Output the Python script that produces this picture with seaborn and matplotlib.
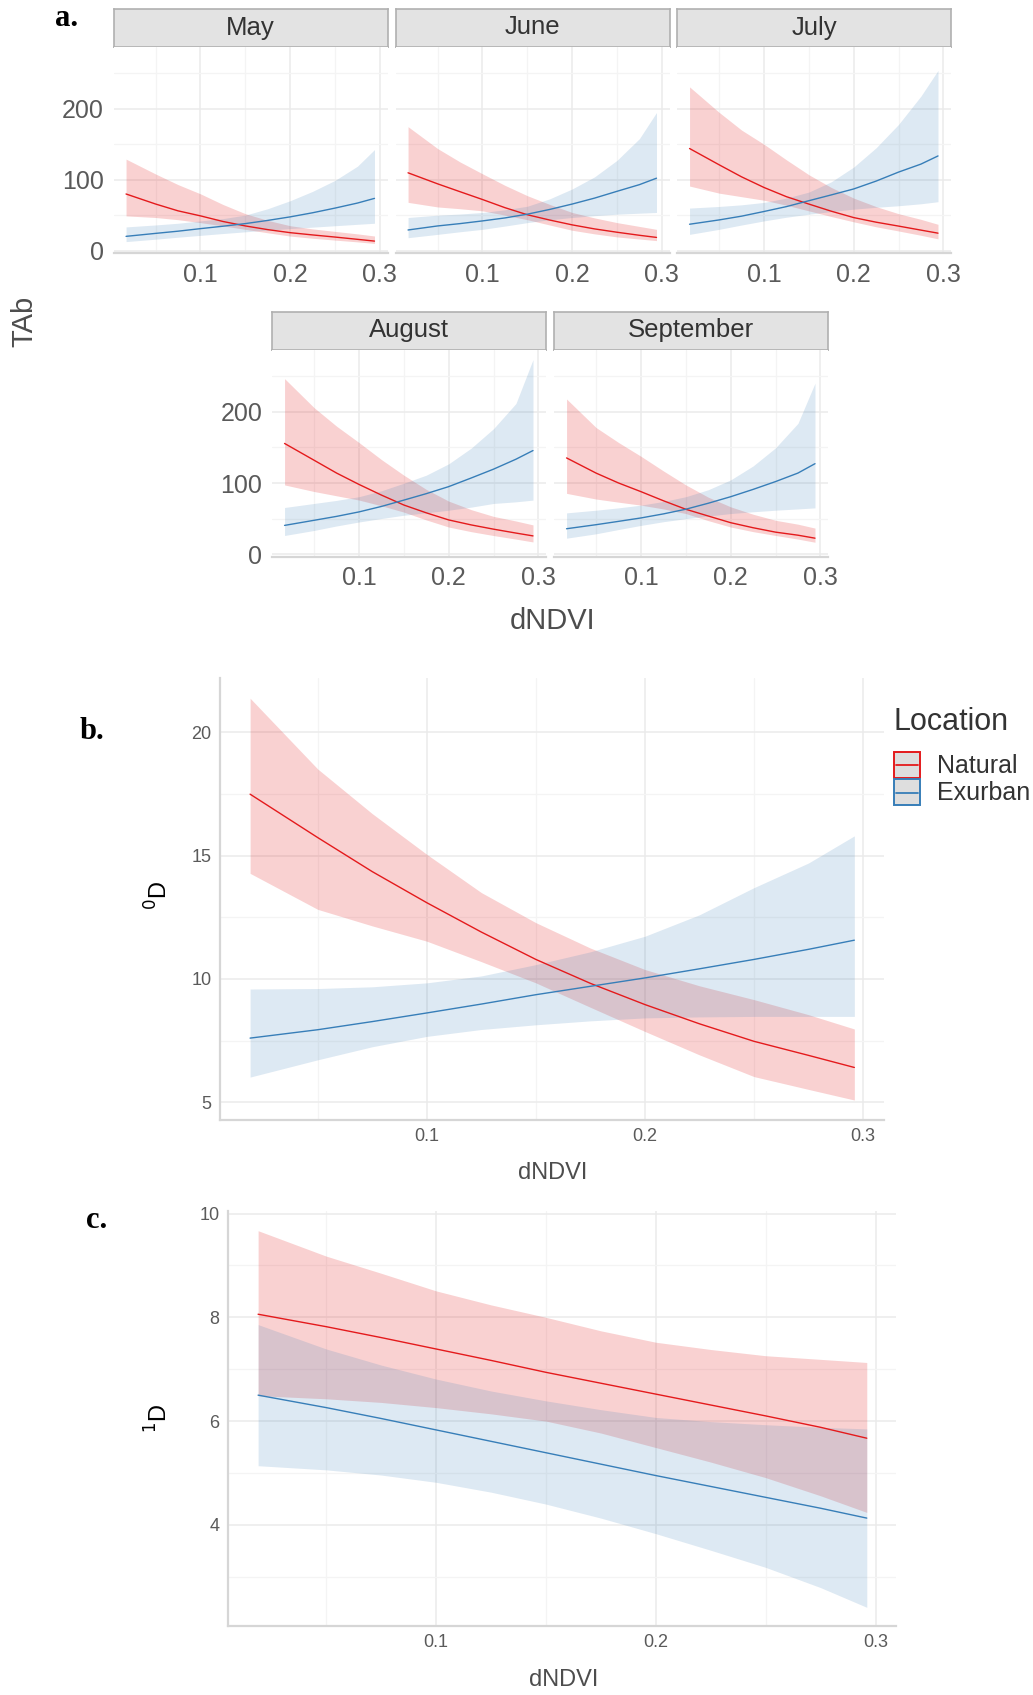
import pandas as pd
import seaborn as sns
import matplotlib.pyplot as plt
from matplotlib.patches import Rectangle
from matplotlib.lines import Line2D
from matplotlib import font_manager

sns.set_theme(style="white")
_names = {f.name for f in font_manager.fontManager.ttflist}
NARROW = 'Liberation Sans Narrow' if 'Liberation Sans Narrow' in _names else 'Liberation Sans'
plt.rcParams['font.family'] = ['Liberation Sans', 'DejaVu Sans']

W, H = 1033, 1695
RED = '#E41A1C'
BLUE = '#377EB8'
GRID = '#EBEBEB'
GRID_MINOR = '#F4F4F4'
TXT = '#5A5A5A'

# ---- panel a: TAb by month ----
months = ['May', 'June', 'July', 'August', 'September']
x_tab = [0.017, 0.05, 0.075, 0.1, 0.125, 0.15, 0.175, 0.2, 0.225, 0.25, 0.275, 0.294]

tab_nat = {'May': [79.8, 65.6, 56.0, 48.9, 41.0, 34.7, 29.5, 25.2, 22.0, 19.0, 15.8, 13.3],
           'June': [109.7, 94.1, 83.0, 72.0, 60.5, 50.5, 43.0, 36.2, 30.5, 25.8, 21.5, 18.5],
           'July': [144.0, 121.0, 104.0, 89.0, 76.0, 65.6, 55.5, 46.5, 40.0, 34.5, 28.8, 24.5],
           'August': [155.7, 132.0, 114.0, 98.0, 83.0, 69.0, 58.0, 48.0, 41.0, 35.0, 29.5, 25.5],
           'September': [135.3, 113.9, 100.0, 87.8, 75.0, 63.0, 53.5, 44.1, 37.0, 30.8, 26.5, 22.3]}
tab_nat_lo = {'May': [48.9, 46.6, 43.5, 39.4, 34.8, 29.9, 25.0, 20.4, 17.3, 14.7, 12.2, 10.0],
              'June': [68.0, 61.5, 59.0, 56.0, 50.0, 43.5, 36.0, 28.6, 23.5, 19.2, 16.2, 14.0],
              'July': [91.0, 81.0, 76.0, 71.0, 64.0, 56.0, 48.0, 40.5, 33.5, 27.6, 21.5, 16.5],
              'August': [97.3, 88.0, 82.0, 76.0, 68.0, 59.0, 48.0, 38.0, 31.5, 26.0, 21.0, 17.0],
              'September': [85.4, 77.4, 73.0, 68.8, 63.5, 57.0, 47.0, 38.0, 31.5, 26.1, 21.0, 16.6]}
tab_nat_hi = {'May': [129.0, 108.0, 93.0, 80.0, 65.0, 52.0, 42.5, 35.0, 30.5, 27.0, 23.5, 20.5],
              'June': [174.8, 143.9, 125.0, 108.3, 92.0, 77.4, 65.0, 53.7, 46.0, 39.4, 34.0, 29.9],
              'July': [231.0, 195.0, 170.0, 150.0, 128.0, 107.0, 89.0, 74.0, 62.0, 52.0, 44.0, 37.0],
              'August': [247.0, 206.0, 180.0, 157.0, 133.0, 111.0, 91.0, 74.5, 62.5, 53.0, 46.5, 41.0],
              'September': [218.3, 178.0, 157.0, 137.6, 117.0, 97.3, 80.0, 66.4, 56.0, 47.5, 42.0, 36.5]}
tab_exu = {'May': [20.0, 24.2, 27.3, 30.9, 34.3, 38.0, 42.5, 47.5, 53.3, 59.9, 67.0, 73.6],
           'June': [29.0, 34.7, 38.0, 41.8, 46.0, 51.3, 58.0, 65.6, 74.0, 83.6, 93.0, 102.1],
           'July': [37.1, 43.2, 48.5, 55.1, 62.0, 70.3, 78.5, 86.9, 98.0, 110.7, 122.0, 133.5],
           'August': [40.3, 47.5, 53.0, 59.3, 67.0, 75.9, 85.0, 94.9, 107.0, 119.5, 133.5, 145.7],
           'September': [35.6, 41.3, 46.0, 50.8, 56.5, 63.1, 71.5, 80.7, 91.0, 102.0, 114.0, 127.2]}
tab_exu_lo = {'May': [12.6, 16.0, 18.8, 21.4, 24.0, 26.4, 28.8, 31.0, 33.0, 35.0, 37.0, 38.5],
              'June': [18.1, 22.8, 26.5, 29.9, 34.5, 39.4, 43.5, 46.6, 49.2, 51.3, 52.7, 53.7],
              'July': [22.8, 29.9, 36.0, 41.8, 47.0, 51.3, 55.0, 58.4, 61.0, 63.2, 66.0, 68.9],
              'August': [26.1, 33.2, 39.5, 45.1, 50.0, 54.6, 58.0, 61.7, 66.0, 71.2, 73.5, 75.9],
              'September': [22.3, 28.5, 34.5, 40.3, 45.5, 49.8, 53.5, 57.0, 59.5, 61.7, 63.5, 65.0]}
tab_exu_hi = {'May': [33.3, 36.1, 38.5, 41.8, 45.0, 50.0, 59.0, 70.3, 83.5, 99.0, 119.0, 142.5],
              'June': [46.6, 49.9, 51.5, 53.7, 57.5, 62.5, 73.0, 86.9, 104.0, 127.3, 158.0, 194.8],
              'July': [59.9, 62.2, 64.5, 67.9, 74.0, 82.5, 97.0, 117.8, 145.0, 178.0, 218.0, 254.2],
              'August': [65.5, 71.2, 75.5, 80.7, 89.0, 99.7, 111.0, 127.0, 149.0, 176.5, 212.0, 273.8],
              'September': [57.9, 61.7, 65.0, 68.8, 74.0, 80.7, 90.5, 104.4, 124.0, 149.5, 184.0, 240.6]}

# ---- panel b: 0D ----
x_div = [0.019, 0.05, 0.075, 0.1, 0.125, 0.15, 0.175, 0.2, 0.225, 0.25, 0.275, 0.296]
d0_nat = [17.49, 15.73, 14.35, 13.09, 11.90, 10.79, 9.82, 8.96, 8.18, 7.47, 6.90, 6.41]
d0_nat_lo = [14.28, 12.82, 12.15, 11.53, 10.70, 9.84, 8.85, 7.87, 6.92, 6.04, 5.52, 5.09]
d0_nat_hi = [21.38, 18.51, 16.70, 15.05, 13.50, 12.28, 11.25, 10.38, 9.72, 9.16, 8.55, 7.97]
d0_exu = [7.60, 7.94, 8.27, 8.62, 8.98, 9.36, 9.70, 10.04, 10.41, 10.79, 11.20, 11.57]
d0_exu_lo = [6.02, 6.72, 7.25, 7.67, 7.95, 8.14, 8.30, 8.42, 8.46, 8.48, 8.48, 8.48]
d0_exu_hi = [9.59, 9.61, 9.68, 9.84, 10.12, 10.58, 11.10, 11.73, 12.60, 13.70, 14.70, 15.80]

# ---- panel c: 1D ----
d1_nat = [8.06, 7.82, 7.61, 7.39, 7.17, 6.94, 6.73, 6.52, 6.31, 6.10, 5.88, 5.67]
d1_nat_lo = [6.49, 6.43, 6.36, 6.26, 6.14, 6.00, 5.77, 5.49, 5.21, 4.91, 4.56, 4.24]
d1_nat_hi = [9.67, 9.18, 8.85, 8.51, 8.24, 8.00, 7.74, 7.52, 7.38, 7.26, 7.19, 7.13]
d1_exu = [6.50, 6.26, 6.05, 5.83, 5.61, 5.39, 5.17, 4.95, 4.74, 4.53, 4.32, 4.13]
d1_exu_lo = [5.14, 5.06, 4.96, 4.82, 4.63, 4.40, 4.13, 3.83, 3.51, 3.18, 2.79, 2.41]
d1_exu_hi = [7.86, 7.39, 7.08, 6.81, 6.58, 6.39, 6.22, 6.07, 5.99, 5.93, 5.88, 5.85]

locations = ['Natural', 'Exurban']
palette = {'Natural': RED, 'Exurban': BLUE}

fig = plt.figure(figsize=(W / 100, H / 100), dpi=100)


def px_axes(x0, y0, x1, y1):
    return fig.add_axes([x0 / W, 1 - y1 / H, (x1 - x0) / W, (y1 - y0) / H])


def draw(ax, x, nat, nat_lo, nat_hi, exu, exu_lo, exu_hi):
    ax.fill_between(x, nat_lo, nat_hi, color=RED, alpha=0.2, lw=0)
    ax.fill_between(x, exu_lo, exu_hi, color=BLUE, alpha=0.17, lw=0)
    df = pd.DataFrame({'dNDVI': list(x) * 2,
                       'fit': list(nat) + list(exu),
                       'Location': ['Natural'] * len(x) + ['Exurban'] * len(x)})
    sns.lineplot(data=df, x='dNDVI', y='fit', hue='Location', hue_order=locations,
                 palette=palette, lw=1.0, legend=False, ax=ax)


def style(ax, xlim, ylim, yticks, yminor, size, family, pad, left=False, ylabels=True):
    ax.set_xlim(*xlim)
    ax.set_ylim(*ylim)
    ax.set_xticks([0.1, 0.2, 0.3])
    ax.set_xticks([0.05, 0.15, 0.25], minor=True)
    ax.set_yticks(yticks)
    ax.set_yticks(yminor, minor=True)
    ax.set_xticklabels(['0.1', '0.2', '0.3'])
    if ylabels:
        ax.set_yticklabels([str(t) for t in yticks])
    else:
        ax.set_yticklabels([])
    ax.grid(which='major', color=GRID, lw=1.1)
    ax.grid(which='minor', color=GRID_MINOR, lw=0.9)
    ax.set_axisbelow(True)
    ax.tick_params(which='both', length=0, pad=pad, labelsize=size, labelcolor=TXT)
    for lab in ax.get_xticklabels() + ax.get_yticklabels():
        lab.set_family(family)
    for side in ['top', 'right', 'left', 'bottom']:
        ax.spines[side].set_visible(False)
    ax.spines['bottom'].set_visible(True)
    ax.spines['bottom'].set_color('#D6D6D6')
    ax.spines['bottom'].set_linewidth(1.6)
    if left:
        ax.spines['left'].set_visible(True)
        ax.spines['left'].set_color('#D6D6D6')
        ax.spines['left'].set_linewidth(1.6)
    ax.set_xlabel('')
    ax.set_ylabel('')


# facet boxes (x0, x1, strip top, strip bottom, plot bottom)
facets = {'May': (113.5, 387.5, 8.5, 46.5, 253),
          'June': (395.5, 669.5, 8.5, 46.5, 253),
          'July': (677, 951, 8.5, 46.5, 253),
          'August': (272, 546, 311.5, 349.5, 556.5),
          'September': (554, 828, 311.5, 349.5, 556.5)}

for m in months:
    x0, x1, s0, s1, yb = facets[m]
    strip = px_axes(x0, s0, x1, s1)
    strip.set_facecolor('#E3E3E3')
    strip.set_xticks([])
    strip.set_yticks([])
    for sp in strip.spines.values():
        sp.set_color('#B0B0B0')
        sp.set_linewidth(1.2)
    strip.text(0.5, 0.5, m, ha='center', va='center', fontsize=18.5, color='#333333',
               transform=strip.transAxes)
    ax = px_axes(x0, s1, x1, yb)
    draw(ax, x_tab, tab_nat[m], tab_nat_lo[m], tab_nat_hi[m],
         tab_exu[m], tab_exu_lo[m], tab_exu_hi[m])
    style(ax, (0.003, 0.3085), (-3.5, 288), [0, 100, 200], [50, 150, 250], 18,
          'Liberation Sans', 7, ylabels=m in ('May', 'August'))

fig.text(24 / W, 1 - 321 / H, 'TAb', rotation=90, ha='center', va='center',
         fontsize=21, color='#4D4D4D')
fig.text(553 / W, 1 - 621 / H, 'dNDVI', ha='center', va='center', fontsize=21,
         color='#4D4D4D')
fig.text(67 / W, 1 - 18 / H, 'a.', ha='center', va='center', fontsize=22,
         fontweight='bold', family='Liberation Serif', color='black')

# panel b
axb = px_axes(220, 678, 884, 1120)
draw(axb, x_div, d0_nat, d0_nat_lo, d0_nat_hi, d0_exu, d0_exu_lo, d0_exu_hi)
style(axb, (0.0052, 0.3096), (4.28, 22.2), [5, 10, 15, 20], [7.5, 12.5, 17.5],
      13, NARROW, 6, left=True)
fig.text(553 / W, 1 - 1173 / H, 'dNDVI', ha='center', va='center', fontsize=17,
         color='#4D4D4D', family=NARROW)
fig.text(159 / W, 1 - 895 / H, r'$^{0}$D', rotation=90, ha='center', va='center',
         fontsize=17, color='black')
fig.text(92 / W, 1 - 731 / H, 'b.', ha='center', va='center', fontsize=22,
         fontweight='bold', family='Liberation Serif', color='black')

# legend for panel b
fig.text(894 / W, 1 - 722 / H, 'Location', ha='left', va='center', fontsize=22,
         color='#333333', family=NARROW)
for i, loc in enumerate(locations):
    ytop = 752 + i * 27.5
    fig.add_artist(Rectangle((894 / W, 1 - (ytop + 26) / H), 26 / W, 26 / H,
                             transform=fig.transFigure, facecolor='#DEDEDE',
                             edgecolor=palette[loc], lw=1.4))
    fig.add_artist(Line2D([896 / W, 918 / W], [1 - (ytop + 13) / H] * 2,
                          transform=fig.transFigure, color=palette[loc], lw=1.3))
    fig.text(937 / W, 1 - (ytop + 14) / H, loc, ha='left', va='center', fontsize=18,
             color='#333333', family=NARROW)

# panel c
axc = px_axes(228, 1211, 896, 1626)
draw(axc, x_div, d1_nat, d1_nat_lo, d1_nat_hi, d1_exu, d1_exu_lo, d1_exu_hi)
style(axc, (0.0053, 0.3093), (2.05, 10.05), [4, 6, 8, 10], [3, 5, 7, 9],
      13, NARROW, 6, left=True)
fig.text(564 / W, 1 - 1680 / H, 'dNDVI', ha='center', va='center', fontsize=17,
         color='#4D4D4D', family=NARROW)
fig.text(159 / W, 1 - 1418 / H, r'$^{1}$D', rotation=90, ha='center', va='center',
         fontsize=17, color='black')
fig.text(97 / W, 1 - 1221 / H, 'c.', ha='center', va='center', fontsize=22,
         fontweight='bold', family='Liberation Serif', color='black')

fig.savefig('out.png', dpi=100, facecolor='white')
